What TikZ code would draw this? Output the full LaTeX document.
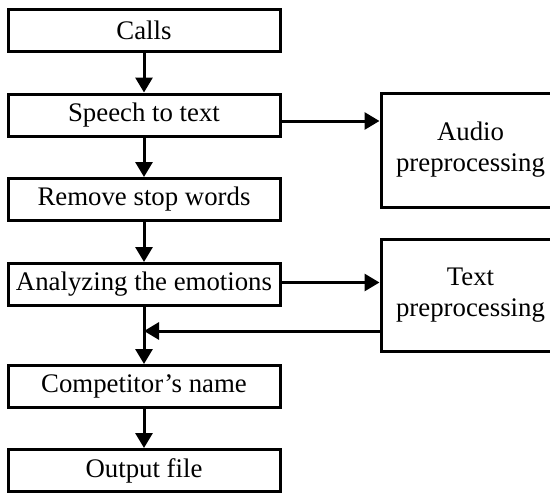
\documentclass[tikz,border=0pt]{standalone}
\usepackage{fontspec}
\setmainfont{Liberation Serif}
\usetikzlibrary{arrows.meta}
\usetikzlibrary{calc}

\begin{document}
\begin{tikzpicture}[x=0.5pt, y=-0.5pt,
  box/.style={draw, line width=1.5pt, minimum width=136pt, minimum height=21pt, inner sep=0pt, font=\fontsize{13.4}{15.5}\selectfont},
  sidebox/.style={draw, line width=1.5pt, minimum width=89.5pt, inner sep=0pt, align=center, font=\fontsize{13.4}{15.5}\selectfont},
  flow/.style={-{Triangle[length=7.5pt,width=8.5pt]}, line width=1.5pt}]
\clip (0,0) rectangle (550,493);

\node[box] (calls) at (144,30) {Calls};
\node[box] (speech) at (144,115) {Speech to text};
\node[box] (stopwords) at (144,199.5) {Remove stop words};
\node[box] (emotions) at (144,284.5) {Analyzing the emotions};
\node[box] (competitor) at (144,386.5) {Competitor’s name};
\node[box] (output) at (144,470.5) {Output file};

\node[sidebox, minimum height=57pt] (audio) at (470.5,150) {Audio\\preprocessing};
\node[sidebox, minimum height=56pt] (textpre) at (470.5,295) {Text\\preprocessing};
\coordinate (join) at (144,331);

\draw[flow] (calls) -- (speech);
\draw[flow] (speech) -- (stopwords);
\draw[flow] (stopwords) -- (emotions);
\draw[flow] (emotions) -- (competitor);
\draw[flow] (competitor) -- (output);

\draw[flow] ([yshift=-3pt]speech.east) -- ([yshift=-3pt]speech.east -| audio.west);
\draw[flow] ([yshift=1pt]emotions.east) -- ([yshift=1pt]emotions.east -| textpre.west);
\draw[flow, shorten >=-1pt] (textpre.west |- join) -- ([xshift=1pt]join);
\end{tikzpicture}
\end{document}
